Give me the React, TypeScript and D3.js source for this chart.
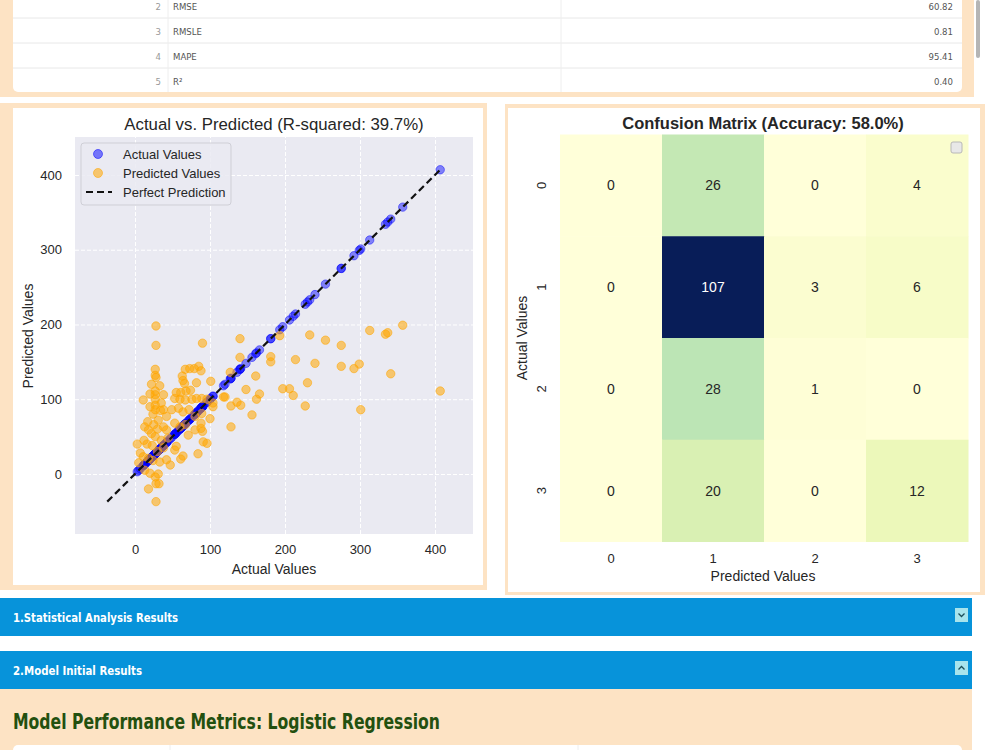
import React, { useEffect, useRef } from "react";
import * as d3 from "d3";

// regression metrics table (top card)
const metricIds = [2, 3, 4, 5];
const metricNames = ["RMSE", "RMSLE", "MAPE", "R²"];
const metricValues = ["60.82", "0.81", "95.41", "0.40"];

// regression test set: actual target vs model prediction
const actualValues = [
  407, 357, 334, 337, 341, 313, 301, 299, 292, 275, 275, 254, 240, 233, 230, 214, 227, 211, 206, 197,
  193, 181, 181, 166, 162, 161, 156, 148, 141, 136, 128, 140, 140, 127, 128, 120, 104, 104, 100, 101,
  90, 96, 84, 88, 88, 90, 67, 73, 79, 85, 88, 63, 64, 66, 82, 11, 28, 28, 27, 27,
  28, 27, 27, 27, 27, 27, 38, 55, 61, 68, 74, 53, 60, 67, 76, 82, 89, 96, 118, 38,
  42, 49, 58, 64, 72, 80, 89, 13, 18, 22, 27, 38, 42, 53, 60, 67, 71, 80, 91, 55,
  53, 64, 61, 7, 11, 18, 24, 33, 42, 47, 13, 20, 27, 31, 18, 28, 32, 28, 22, 33,
  20, 35, 24, 31, 17, 35, 23, 30, 16, 38, 44, 12, 30, 20, 34, 25, 3, 5,
];
const predictedValues = [
  111, 199, 187, 189, 134, 192, 86, 147, 141, 172, 144, 179, 148, 186, 122, 153, 91, 105, 114, 114,
  185, 157, 150, 107, 100, 131, 79, 113, 92, 96, 91, 181, 156, 136, 63, 103, 95, 90, 74, 124,
  175, 41, 27, 68, 61, 57, 140, 141, 141, 144, 138, 131, 125, 121, 122, 99, 198, 172, 140, 132,
  129, 111, 106, 100, 92, 86, 106, 109, 109, 111, 112, 101, 100, 99, 100, 101, 101, 100, 103, 86,
  77, 86, 88, 83, 86, 77, 81, 63, 59, 54, 50, 63, 59, 68, 63, 66, 52, 59, 43, 37,
  32, 24, 20, 28, 23, 21, 18, 16, 19, 12, 5, 1, -4, 0, -20, -13, -13, -37, 120, 118,
  90, 95, 80, 72, 70, 45, 38, 30, 40, 35, 48, 45, 60, 107, 85, 66, 40, 15,
];
const scatterTicks = [0, 100, 200, 300, 400];

// classification confusion matrix
const classLabels = ["0", "1", "2", "3"];
const confusionCounts = [
  [0, 26, 0, 4],
  [0, 107, 3, 6],
  [0, 28, 1, 0],
  [0, 20, 0, 12],
];

const sectionTitles = ["1.Statistical Analysis Results", "2.Model Initial Results"];
const sectionTitleWidths = [165, 129];

export default function App() {
  const svgRef = useRef<SVGSVGElement>(null);

  useEffect(() => {
    const W = 1000;
    const H = 750;
    const peach = "#fde3c4";
    const chartFont = "'Liberation Sans', Arial, sans-serif";
    const pageFont = "'DejaVu Sans Condensed', 'Liberation Sans Narrow', sans-serif";
    const ink = "#262626";

    const svg = d3.select(svgRef.current).attr("width", W).attr("height", H);
    svg.selectAll("*").remove();
    svg.append("rect").attr("width", W).attr("height", H).attr("fill", "#fff");

    // ---------- metrics table ----------
    svg.append("rect").attr("x", 0).attr("y", -10).attr("width", 974).attr("height", 107).attr("fill", peach);
    svg.append("rect").attr("x", 13).attr("y", -10).attr("width", 949).attr("height", 102).attr("rx", 5).attr("fill", "#fff");

    const rowBand = d3.scaleBand<number>().domain(metricIds).range([-6, 94]);
    const table = svg.append("g").attr("font-family", pageFont).attr("font-size", 9.5).attr("fill", "#555");
    metricIds.forEach((id, i) => {
      const y0 = rowBand(id)!;
      const cy = y0 + rowBand.bandwidth() / 2;
      if (i > 0) {
        table.append("line").attr("x1", 13).attr("x2", 962).attr("y1", y0 - 1).attr("y2", y0 - 1)
          .attr("stroke", "#e8e8e8");
      }
      table.append("text").attr("x", 161).attr("y", cy).attr("dy", "0.35em").attr("text-anchor", "end")
        .attr("fill", "#999").text(id);
      table.append("text").attr("x", 173).attr("y", cy).attr("dy", "0.35em").text(metricNames[i]);
      table.append("text").attr("x", 953).attr("y", cy).attr("dy", "0.35em").attr("text-anchor", "end")
        .text(metricValues[i]);
    });
    [168, 561].forEach((x) => {
      table.append("line").attr("x1", x).attr("x2", x).attr("y1", -10).attr("y2", 92).attr("stroke", "#eee");
    });
    svg.append("rect").attr("x", 976).attr("y", 0).attr("width", 4).attr("height", 58).attr("rx", 2).attr("fill", "#b5b5b5");

    // ---------- scatter: actual vs predicted ----------
    svg.append("rect").attr("x", 0).attr("y", 103).attr("width", 487).attr("height", 487).attr("fill", peach);
    svg.append("rect").attr("x", 13).attr("y", 108).attr("width", 470).attr("height", 477).attr("fill", "#fff");

    const xScale = d3.scaleLinear().domain([-80, 450.7]).range([75, 473]);
    const yScale = d3.scaleLinear().domain([-80.3, 450.8]).range([534, 137]);
    const sc = svg.append("g").attr("font-family", chartFont);

    sc.append("rect").attr("x", 75).attr("y", 137).attr("width", 398).attr("height", 397).attr("fill", "#eaeaf2");

    const gx = sc.append("g").attr("transform", "translate(0,534)")
      .call(d3.axisBottom(xScale).tickValues(scatterTicks).tickSize(-397).tickPadding(11));
    const gy = sc.append("g").attr("transform", "translate(75,0)")
      .call(d3.axisLeft(yScale).tickValues(scatterTicks).tickSize(-398).tickPadding(13));
    [gx, gy].forEach((g) => {
      g.select(".domain").remove();
      g.selectAll(".tick line").attr("stroke", "#fff").attr("stroke-width", 1).attr("stroke-dasharray", "4,2");
      g.selectAll(".tick text").attr("fill", ink).attr("font-size", 13).attr("font-family", chartFont);
    });

    const pts = actualValues.map((a, i) => ({ a, p: predictedValues[i] }));

    sc.append("g").selectAll("circle").data(pts).join("circle")
      .attr("cx", (d) => xScale(d.a)).attr("cy", (d) => yScale(d.a)).attr("r", 4.2)
      .attr("fill", "#0000ff").attr("fill-opacity", 0.45)
      .attr("stroke", "#0000ff").attr("stroke-opacity", 0.45).attr("stroke-width", 1);

    sc.append("g").selectAll("circle").data(pts).join("circle")
      .attr("cx", (d) => xScale(d.a)).attr("cy", (d) => yScale(d.p)).attr("r", 4.2)
      .attr("fill", "#ffa500").attr("fill-opacity", 0.55)
      .attr("stroke", "#ffa500").attr("stroke-opacity", 0.55).attr("stroke-width", 1);

    const lo = Math.min(d3.min(actualValues)!, d3.min(predictedValues)!);
    const hi = Math.max(d3.max(actualValues)!, d3.max(predictedValues)!);
    sc.append("line")
      .attr("x1", xScale(lo)).attr("y1", yScale(lo)).attr("x2", xScale(hi)).attr("y2", yScale(hi))
      .attr("stroke", "#111").attr("stroke-width", 2.2).attr("stroke-dasharray", "7,4");

    sc.append("text").attr("x", 274).attr("y", 124).attr("dy", "0.35em").attr("text-anchor", "middle")
      .attr("font-size", 16.8).attr("fill", ink).text("Actual vs. Predicted (R-squared: 39.7%)");
    sc.append("text").attr("x", 274).attr("y", 569).attr("dy", "0.35em").attr("text-anchor", "middle")
      .attr("font-size", 14).attr("fill", ink).text("Actual Values");
    sc.append("text").attr("transform", "translate(28,336) rotate(-90)").attr("dy", "0.35em")
      .attr("text-anchor", "middle").attr("font-size", 14).attr("fill", ink).text("Predicted Values");

    // legend
    const lg = sc.append("g").attr("transform", "translate(81,143)");
    lg.append("rect").attr("width", 150).attr("height", 62).attr("rx", 3)
      .attr("fill", "#eaeaf2").attr("fill-opacity", 0.85).attr("stroke", "#cfcfd6");
    lg.append("circle").attr("cx", 17).attr("cy", 11).attr("r", 4.5)
      .attr("fill", "#0000ff").attr("fill-opacity", 0.5).attr("stroke", "#0000ff").attr("stroke-opacity", 0.5);
    lg.append("circle").attr("cx", 17).attr("cy", 30).attr("r", 4.5)
      .attr("fill", "#ffa500").attr("fill-opacity", 0.55).attr("stroke", "#ffa500").attr("stroke-opacity", 0.55);
    lg.append("line").attr("x1", 5).attr("x2", 31).attr("y1", 49).attr("y2", 49)
      .attr("stroke", "#111").attr("stroke-width", 2.2).attr("stroke-dasharray", "7,4");
    ["Actual Values", "Predicted Values", "Perfect Prediction"].forEach((t, i) => {
      lg.append("text").attr("x", 42).attr("y", 11 + i * 19).attr("dy", "0.35em")
        .attr("font-size", 13).attr("fill", ink).text(t);
    });

    // ---------- confusion matrix ----------
    svg.append("rect").attr("x", 505).attr("y", 104).attr("width", 480).attr("height", 491).attr("fill", peach);
    svg.append("rect").attr("x", 508).attr("y", 108).attr("width", 472).attr("height", 484).attr("fill", "#fff");

    const cm = svg.append("g").attr("font-family", chartFont);
    const colBand = d3.scaleBand().domain(classLabels).range([560, 968]);
    const rowBandCm = d3.scaleBand().domain(classLabels).range([134.5, 541.5]);
    const maxCount = d3.max(confusionCounts.flat())!;
    const color = d3.scaleSequential(d3.interpolateYlGnBu).domain([0, maxCount]);

    const cells = confusionCounts.flatMap((row, r) =>
      row.map((v, c) => ({ r: classLabels[r], c: classLabels[c], v }))
    );
    cm.selectAll("rect.cell").data(cells).join("rect").attr("class", "cell")
      .attr("x", (d) => colBand(d.c)!).attr("y", (d) => rowBandCm(d.r)!)
      .attr("width", colBand.bandwidth() + 0.5).attr("height", rowBandCm.bandwidth() + 0.5)
      .attr("fill", (d) => color(d.v));
    cm.selectAll("text.val").data(cells).join("text").attr("class", "val")
      .attr("x", (d) => colBand(d.c)! + colBand.bandwidth() / 2)
      .attr("y", (d) => rowBandCm(d.r)! + rowBandCm.bandwidth() / 2)
      .attr("dy", "0.35em").attr("text-anchor", "middle").attr("font-size", 14)
      .attr("fill", (d) => (d.v / maxCount > 0.6 ? "#fff" : ink)).text((d) => d.v);

    classLabels.forEach((l) => {
      cm.append("text").attr("x", colBand(l)! + colBand.bandwidth() / 2).attr("y", 558).attr("dy", "0.35em")
        .attr("text-anchor", "middle").attr("font-size", 13).attr("fill", ink).text(l);
      cm.append("text")
        .attr("transform", `translate(541,${rowBandCm(l)! + rowBandCm.bandwidth() / 2}) rotate(-90)`)
        .attr("dy", "0.35em").attr("text-anchor", "middle").attr("font-size", 13).attr("fill", ink).text(l);
    });

    const total = d3.sum(confusionCounts.flat());
    const correct = d3.sum(confusionCounts.map((row, i) => row[i]));
    cm.append("text").attr("x", 763).attr("y", 123).attr("dy", "0.35em").attr("text-anchor", "middle")
      .attr("font-size", 16.5).attr("font-weight", "bold").attr("fill", ink)
      .text(`Confusion Matrix (Accuracy: ${((correct / total) * 100).toFixed(1)}%)`);
    cm.append("text").attr("x", 763).attr("y", 576).attr("dy", "0.35em").attr("text-anchor", "middle")
      .attr("font-size", 14).attr("fill", ink).text("Predicted Values");
    cm.append("text").attr("transform", "translate(522,338) rotate(-90)").attr("dy", "0.35em")
      .attr("text-anchor", "middle").attr("font-size", 14).attr("fill", ink).text("Actual Values");

    cm.append("rect").attr("x", 951).attr("y", 142).attr("width", 11).attr("height", 11).attr("rx", 2)
      .attr("fill", "#e8e8e8").attr("stroke", "#b8b8b8");

    // ---------- collapsible section bars ----------
    const barY = [598, 651];
    sectionTitles.forEach((t, i) => {
      const y = barY[i];
      svg.append("rect").attr("x", 0).attr("y", y).attr("width", 972).attr("height", 38).attr("fill", "#0793da");
      svg.append("text").attr("x", 13).attr("y", y + 20).attr("dy", "0.35em")
        .attr("font-family", pageFont).attr("font-weight", "bold").attr("font-size", 12.5)
        .attr("textLength", sectionTitleWidths[i]).attr("lengthAdjust", "spacingAndGlyphs")
        .attr("fill", "#fff").text(t);
      svg.append("rect").attr("x", 955).attr("y", y + 10).attr("width", 13).attr("height", 14)
        .attr("fill", "#a8e4ec");
      const cx = 961.5;
      const cy = y + 17;
      const chevron = i === 0
        ? `M${cx - 3},${cy - 1.5}L${cx},${cy + 1.5}L${cx + 3},${cy - 1.5}`
        : `M${cx - 3},${cy + 1.5}L${cx},${cy - 1.5}L${cx + 3},${cy + 1.5}`;
      svg.append("path").attr("d", chevron).attr("fill", "none").attr("stroke", "#1d4f5a").attr("stroke-width", 1.3);
    });

    // ---------- logistic regression card ----------
    svg.append("rect").attr("x", 0).attr("y", 689).attr("width", 972).attr("height", 70).attr("fill", peach);
    svg.append("text").attr("x", 13).attr("y", 722).attr("dy", "0.35em")
      .attr("font-family", pageFont).attr("font-weight", "bold").attr("font-size", 21)
      .attr("textLength", 427).attr("lengthAdjust", "spacingAndGlyphs")
      .attr("fill", "#23500f").text("Model Performance Metrics: Logistic Regression");
    svg.append("rect").attr("x", 13).attr("y", 745).attr("width", 949).attr("height", 20).attr("rx", 5).attr("fill", "#fff");
    [170, 578].forEach((x) => {
      svg.append("line").attr("x1", x).attr("x2", x).attr("y1", 745).attr("y2", 750).attr("stroke", "#eee");
    });
  }, []);

  return (
    <div style={{ position: "absolute", left: 0, top: 0 }}>
      <svg ref={svgRef} style={{ display: "block" }}></svg>
    </div>
  );
}
